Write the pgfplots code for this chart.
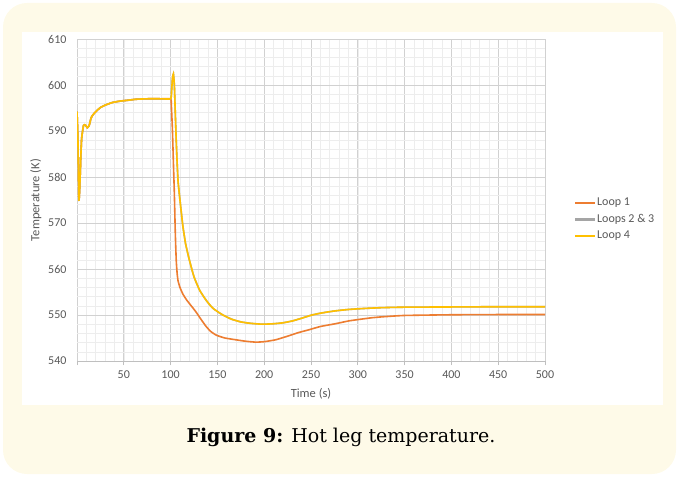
\documentclass[border=0pt]{standalone}
\usepackage{fontspec}
\setmainfont{Carlito}
\newfontfamily\capfont{DejaVu Serif}
\usepackage{pgfplots}
\usepackage{pgfplotstable}
\pgfplotsset{compat=1.18}
\definecolor{cream}{HTML}{FEFAE8}
\definecolor{loopone}{HTML}{ED7D31}
\definecolor{looptwo}{HTML}{A5A5A5}
\definecolor{loopfour}{HTML}{FFC000}
\definecolor{txt}{HTML}{595959}

\pgfplotstableread{
t T
0 594.2
1 588
2 575
3 578
4 584
5 588.5
7 591.2
9 591.3
11 590.7
13 591.2
15 592.8
17 593.5
20 594.2
25 595.1
31 595.7
38 596.2
46 596.5
55 596.7
63 596.9
75 597.0
90 597.0
100 597.0
101 598.5
102 601.5
103 602.4
104 600
105 594
106 588
107 583
108 579
110 575
113 569.5
116 565.5
120 562
125 558.3
131 555.4
138 553.2
145 551.5
155 550.1
165 549.1
175 548.5
185 548.2
198 548.0
210 548.1
220 548.3
230 548.7
240 549.3
251 550.0
263 550.5
276 550.9
290 551.2
305 551.4
326 551.6
350 551.7
400 551.75
450 551.8
500 551.8
}\loopfour

\pgfplotstableread{
t T
0 594.2
1 588
2 575
3 578
4 584
5 588.5
7 591.2
9 591.3
11 590.7
13 591.2
15 592.8
17 593.5
20 594.2
25 595.1
31 595.7
38 596.2
46 596.5
55 596.7
63 596.9
75 597.0
90 597.0
100 597.0
100.7 596
102 590
103 583
104 576.5
105 568
106 562
107 559
108 557.4
110 556
113 554.6
117 553.3
122 552
127 550.7
132 549.2
138 547.5
143 546.4
149 545.6
158 545
170 544.6
180 544.3
191 544.1
200 544.2
212 544.6
225 545.4
237 546.2
248 546.8
260 547.5
276 548.1
290 548.7
300 549.0
315 549.4
326 549.6
350 549.9
400 550.05
450 550.1
500 550.1
}\loopone

\begin{document}
\begin{tikzpicture}[x=1pt,y=1pt]
\path (0,0) rectangle (679,477);
\fill[cream] (3,3) [rounded corners=24pt] rectangle (676,474);
\fill[white] (22,72) rectangle (663,445);
\node[font=\capfont\fontsize{19}{22}\selectfont,text=black] at (341,40)
  {\textbf{Figure 9:} Hot leg temperature.};
\begin{axis}[
  at={(77pt,116pt)}, anchor=south west,
  scale only axis, width=468pt, height=322pt,
  xmin=0, xmax=500, ymin=540, ymax=610,
  xtick={0,50,...,500},
  xticklabels={,50,100,150,200,250,300,350,400,450,500},
  ytick={540,550,...,610},
  minor xtick={0,10,...,500},
  minor ytick={540,542,...,610},
  grid=both,
  major grid style={color=black!18,line width=0.7pt},
  minor grid style={color=black!7,line width=0.5pt},
  axis x line*=bottom, axis y line*=left,
  x axis line style={color=black!25,line width=0.7pt,-},
  y axis line style={draw=none},
  xtick style={color=black!25,line width=0.7pt},
  ytick style={draw=none},
  minor tick length=0pt,
  major tick length=4pt,
  tick align=outside,
  tick label style={font=\fontsize{12}{14}\selectfont,text=txt},
  xticklabel style={yshift=-2pt},
  yticklabel style={xshift=-3pt},
  /pgf/number format/assume math mode=true,
  xlabel={Time (s)}, ylabel={Temperature (K)},
  label style={font=\fontsize{12.5}{14}\selectfont,text=txt},
  xlabel style={at={(axis description cs:0.5,-0.102)},anchor=center},
  ylabel style={at={(axis description cs:-0.088,0.5)},anchor=center,rotate=0},
  legend style={at={(1.064,0.44)},anchor=west,draw=none,fill=none,
    font=\fontsize{12}{14}\selectfont,row sep=3pt,inner xsep=0pt},
  legend cell align=left,
  legend image code/.code={\fill[#1,draw=none] (0pt,-1.2pt) rectangle (20pt,1.2pt);},
]
\addplot[loopone,line width=1.6pt,smooth,tension=0.3] table[x=t,y=T] {\loopone};
\addlegendentry{\textcolor{txt}{Loop 1}}
\addplot[looptwo,line width=1.6pt,smooth,tension=0.3] table[x=t,y=T] {\loopfour};
\addlegendentry{\textcolor{txt}{Loops 2 \& 3}}
\addplot[loopfour,line width=1.6pt,smooth,tension=0.3] table[x=t,y=T] {\loopfour};
\addlegendentry{\textcolor{txt}{Loop 4}}
\end{axis}
\end{tikzpicture}
\end{document}
